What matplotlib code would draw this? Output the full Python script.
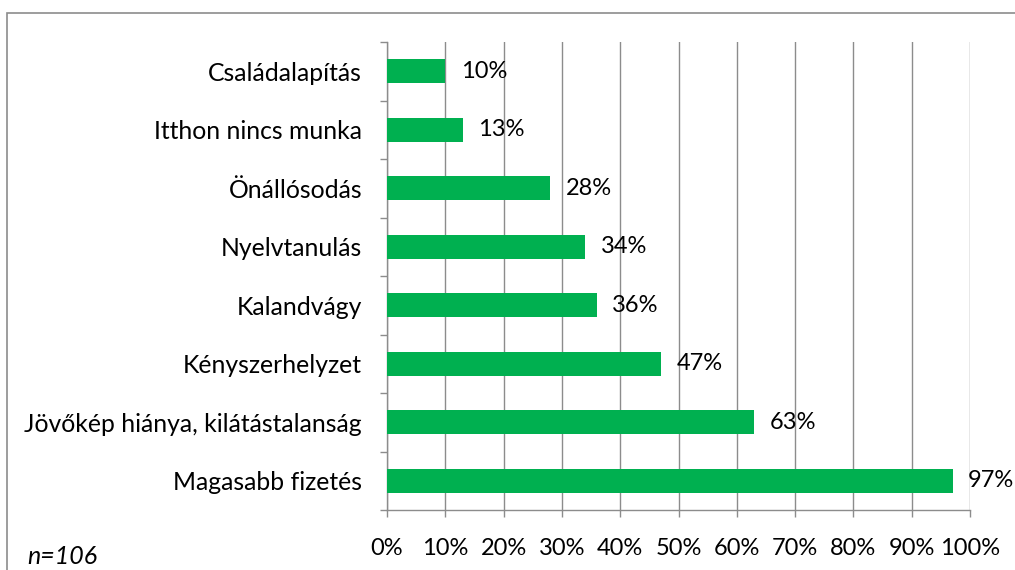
import matplotlib.pyplot as plt
from matplotlib.patches import Rectangle
from matplotlib.ticker import MultipleLocator, PercentFormatter

plt.rcParams['font.family'] = ['Lato', 'DejaVu Sans']

categories = ['Magasabb fizetés', 'Jövőkép hiánya, kilátástalanság', 'Kényszerhelyzet',
              'Kalandvágy', 'Nyelvtanulás', 'Önállósodás', 'Itthon nincs munka',
              'Családalapítás']
values = [97, 63, 47, 36, 34, 28, 13, 10]

green = '#00B050'
gray = '#8C8C8C'
fs = 17

fig = plt.figure(figsize=(10.15, 5.7), dpi=100)
# outer frame of the chart area
fig.patches.append(Rectangle((7 / 1015, -0.2), 1.2, 1.2 - 13 / 570,
                             transform=fig.transFigure, fill=False,
                             edgecolor=gray, linewidth=1.2))
ax = fig.add_axes([387 / 1015, 60 / 570, 583 / 1015, 468 / 570])

y = range(len(categories))
ax.barh(y, values, height=0.41, color=green, zorder=3)
for i, v in enumerate(values):
    ax.annotate(f'{v}%', (v, i), xytext=(11, 0), textcoords='offset points',
                va='center', ha='left', fontsize=fs, zorder=4)

ax.set_xlim(0, 100)
ax.set_ylim(-0.5, len(categories) - 0.5)
ax.xaxis.set_major_locator(MultipleLocator(10))
ax.xaxis.set_major_formatter(PercentFormatter(decimals=0))
ax.set_yticks(list(y))
ax.set_yticklabels(categories)
ax.set_yticks([i - 0.5 for i in range(len(categories) + 1)], minor=True)
ax.tick_params(axis='y', which='major', length=0, pad=18, labelsize=17.8)
ax.tick_params(axis='y', which='minor', length=5, color=gray, width=1)
ax.tick_params(axis='x', length=5, color=gray, width=1, labelsize=fs, pad=15)
ax.grid(axis='x', color=gray, linewidth=1, zorder=0)
for s in ['top', 'right']:
    ax.spines[s].set_visible(False)
for s in ['left', 'bottom']:
    ax.spines[s].set_color(gray)
    ax.spines[s].set_linewidth(1)

fig.text(27 / 1015, 14 / 570, 'n=106', style='italic', fontsize=18, va='center')

fig.savefig('out.png', dpi=100)
